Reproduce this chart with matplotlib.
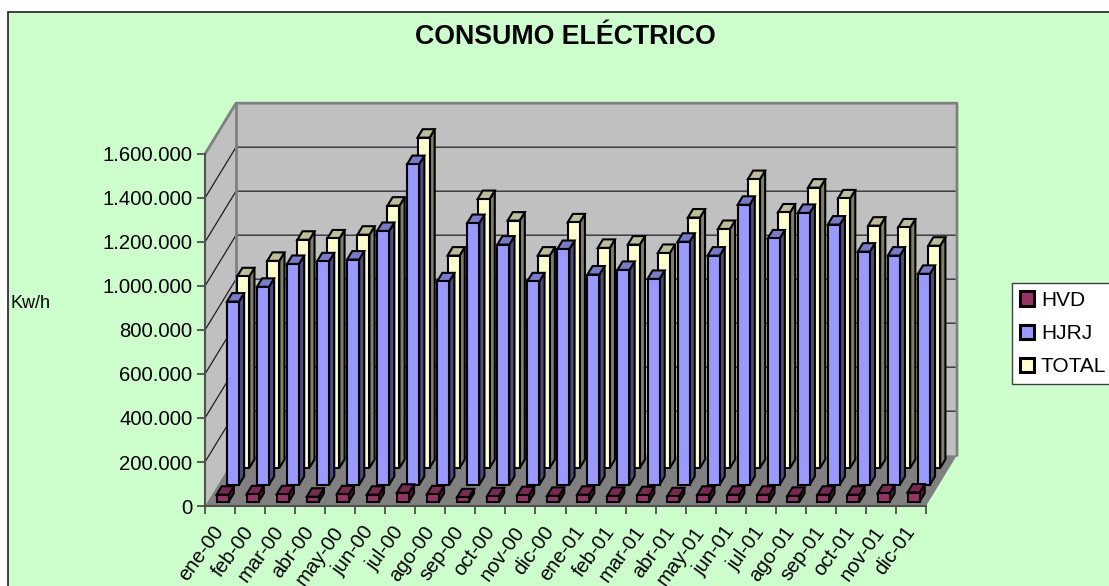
import matplotlib
matplotlib.use('Agg')
import matplotlib.pyplot as plt
from matplotlib.patches import Patch, Rectangle

months = ['ene-00','feb-00','mar-00','abr-00','may-00','jun-00','jul-00','ago-00','sep-00','oct-00','nov-00','dic-00',
          'ene-01','feb-01','mar-01','abr-01','may-01','jun-01','jul-01','ago-01','sep-01','oct-01','nov-01','dic-01']
hvd = [32000,34000,34000,23000,34000,32000,41000,34000,20000,25000,30000,27000,
       32000,27000,30000,25000,32000,32000,32000,27000,32000,32000,38000,42000]
hjrj = [833000,900000,1004000,1016000,1024000,1154000,1458000,925000,1190000,1092000,925000,1072000,
        956000,977000,936000,1105000,1042000,1273000,1120000,1236000,1183000,1060000,1042000,959000]
total = [871000,941000,1037000,1043000,1060000,1192000,1501000,965000,1222000,1124000,965000,1116000,
         1000000,1015000,977000,1138000,1086000,1313000,1161000,1274000,1225000,1101000,1093000,1010000]
yticks = [0,200000,400000,600000,800000,1000000,1200000,1400000,1600000]
series_names = ['HVD','HJRJ','TOTAL']

W, H = 1109, 586
BG = '#CCFFCC'
WALL = '#C0C0C0'
FLOOR = '#808080'
# front, top, side colours
colors = [('#993366','#7A2952','#4C1933'),
          ('#9999FF','#7A7ACC','#4C4C7F'),
          ('#FFFFCC','#BDBD97','#7F7F66')]

# oblique offset of the whole depth of the plot, in data units
DX = 1.032
DY = 231000
BAR_W = 0.4
EDGE = 1.5

fig = plt.figure(figsize=(W/100, H/100), dpi=100, facecolor='white')
plt.rcParams['font.family'] = ['Liberation Sans', 'DejaVu Sans']
fig.add_artist(Rectangle((8/W, -0.1), 1.1, 1.1 - 12/H, transform=fig.transFigure,
                         facecolor=BG, edgecolor='#202020', lw=1.2, zorder=-1))

ax = fig.add_axes([205/W, 1-506/H, 721/W, 352/H])
ax.patch.set_visible(False)
ax.set_xlim(0, len(months))
ax.set_ylim(0, 1600000)

top = yticks[-1]
n = len(months)
# walls and floor
ax.fill([0, DX, DX, 0], [0, DY, top+DY, top], facecolor=WALL, edgecolor='none', clip_on=False, zorder=1)
ax.fill([DX, n+DX, n+DX, DX], [DY, DY, top+DY, top+DY], facecolor=WALL, edgecolor='none', clip_on=False, zorder=1)
ax.fill([0, n, n+DX, DX], [0, 0, DY, DY], facecolor=FLOOR, edgecolor='none', clip_on=False, zorder=1)
for v in yticks[1:-1]:
    ax.plot([0, DX, n+DX], [v, v+DY, v+DY], color='#202020', lw=0.9, clip_on=False, zorder=2)
ax.plot([0, DX, n+DX, n+DX], [top, top+DY, top+DY, DY], color=FLOOR, lw=2, clip_on=False, zorder=3)
ax.plot([DX, DX], [DY, top+DY], color=FLOOR, lw=2, clip_on=False, zorder=3)

# bars, back series first
all_series = [hvd, hjrj, total]
for s in [2, 1, 0]:
    values = all_series[s]
    d0 = (s + 0.25) / 3
    d1 = (s + 0.75) / 3
    front, top_c, side_c = colors[s]
    z = 10 - s
    for i, v in enumerate(values):
        x0 = i + 0.3 + d0*DX
        x1 = x0 + BAR_W
        b0 = d0*DY
        ox = (d1-d0)*DX
        oy = (d1-d0)*DY
        ax.fill([x1, x1+ox, x1+ox, x1], [b0, b0+oy, b0+oy+v, b0+v], facecolor=side_c,
                edgecolor='black', lw=EDGE, clip_on=False, zorder=z)
        ax.fill([x0, x1, x1+ox, x0+ox], [b0+v, b0+v, b0+oy+v, b0+oy+v], facecolor=top_c,
                edgecolor='black', lw=EDGE, clip_on=False, zorder=z)
    ax.bar([i + 0.3 + d0*DX for i in range(n)], values, width=BAR_W, bottom=d0*DY, align='edge',
           color=front, edgecolor='black', lw=EDGE, clip_on=False, zorder=z)

for name in ['top', 'right']:
    ax.spines[name].set_visible(False)
for name in ['left', 'bottom']:
    ax.spines[name].set_color('#505050')
    ax.spines[name].set_linewidth(1.5)
    ax.spines[name].set_zorder(4)

ax.set_yticks(yticks)
ax.set_yticklabels([f'{v:,}'.replace(',', '.') for v in yticks], fontsize=14.6)
ax.set_xticks(range(n+1))
ax.set_xticklabels([])
ax.set_xticks([i + 0.5 for i in range(n)], minor=True)
ax.set_xticklabels(months, minor=True, rotation=54, ha='right', va='center', rotation_mode='anchor', fontsize=14.6)
ax.tick_params(axis='x', which='minor', length=0, pad=16)
ax.tick_params(axis='both', which='major', length=6, width=1.2, color='#404040')
ax.tick_params(axis='y', pad=3)

fig.text(565/W, 1-36.5/H, 'CONSUMO ELÉCTRICO', fontsize=19.3, fontweight='bold', ha='center', va='center')
fig.text(11/W, 1-303/H, 'Kw/h', fontsize=13, ha='left', va='center')

handles = [Patch(facecolor=colors[i][0], edgecolor='black', lw=2.2, label=series_names[i]) for i in range(3)]
fig.legend(handles=handles, loc='upper left', bbox_to_anchor=(1012/W, 1-283/H), bbox_transform=fig.transFigure,
           borderaxespad=0, fancybox=False, framealpha=1, facecolor='white', edgecolor='#404040',
           fontsize=15, handlelength=0.68, handleheight=0.68, handletextpad=0.33,
           labelspacing=0.68, borderpad=0.38)

fig.savefig('out.png', dpi=100)
